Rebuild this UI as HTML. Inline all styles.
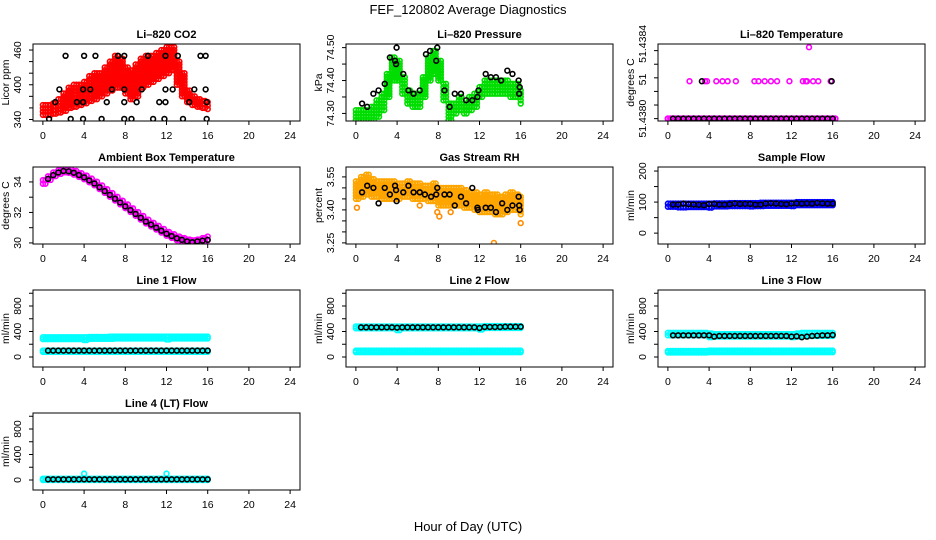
<!DOCTYPE html>
<html><head><meta charset="utf-8"><title>FEF_120802 Average Diagnostics</title>
<style>
html,body{margin:0;padding:0;background:#fff;}
svg{display:block;font-family:"Liberation Sans",Arial,sans-serif;}
</style></head>
<body>
<svg id="chart" width="936" height="540" viewBox="0 0 936 540" xmlns="http://www.w3.org/2000/svg">
<rect x="0" y="0" width="936" height="540" fill="#fff"/>
<text x="468" y="14" font-size="13" text-anchor="middle">FEF_120802  Average Diagnostics</text>
<text x="468" y="531" font-size="13" text-anchor="middle">Hour of Day (UTC)</text>
</svg>
<script>
// ---------- data ----------
const xTicks = [0,4,8,12,16,20,24];
const tDense = [0,0.5,1,1.5,2,2.5,3,3.5,4,4.5,5,5.5,6,6.5,7,7.5,8,8.5,9,9.5,10,10.5,11,11.5,12,12.5,13,13.5,14,14.5,15,15.5,16];
const tBlack = [0.5,1,1.5,2,2.5,3,3.5,4,4.5,5,5.5,6,6.5,7,7.5,8,8.5,9,9.5,10,10.5,11,11.5,12,12.5,13,13.5,14,14.5,15,15.5,16];

// CO2
const co2Lo = [348,348,350,352,355,360,362,365,368,372,375,380,385,390,395,395,385,375,380,395,400,405,410,415,420,425,400,380,370,365,362,360,358];
const co2Hi = [365,365,368,375,385,395,400,400,405,415,420,420,430,440,450,445,430,425,435,445,450,450,455,460,465,465,440,420,390,380,375,372,370];
const co2BlackT = [2.2,4.0,5.1,7.3,7.9,10.2,11.9,13.1,15.3,15.8, 1.6,3.9,4.6,6.7,7.9,9.6,11.9,12.6,14.7,15.8, 1.2,3.3,3.9,6.2,7.9,9.1,11.3,11.9,14.2,15.9, 0.6,2.7,3.9,5.7,7.9,8.6,10.7,11.8,13.6,15.9];
const co2BlackV = [450,450,450,450,450,450,450,450,450,450, 392,392,392,392,392,392,392,392,392,392, 370,370,370,370,370,370,370,370,370,370, 341,341,341,341,341,341,341,341,341,341];

// Pressure
const presLo = [74.28,74.28,74.28,74.28,74.29,74.31,74.35,74.40,74.40,74.36,74.33,74.32,74.32,74.35,74.40,74.42,74.40,74.34,74.28,74.30,74.31,74.30,74.31,74.32,74.35,74.36,74.36,74.36,74.36,74.36,74.35,74.35,74.33];
const presHi = [74.31,74.31,74.31,74.32,74.34,74.36,74.42,74.47,74.46,74.41,74.37,74.36,74.36,74.41,74.47,74.49,74.46,74.39,74.33,74.33,74.35,74.33,74.35,74.36,74.38,74.40,74.40,74.40,74.40,74.40,74.39,74.39,74.37];
const presBlackT = [0.6,1.1,1.7,2.2,2.8,3.3,3.8,3.9,3.95,4.6,5.1,5.6,6.2,6.8,7.2,7.8,7.9,8.6,9.1,9.6,10.2,10.7,11.3,11.8,11.9,12.6,13.1,13.6,14.1,14.7,15.2,15.8,15.9,15.85];
const presBlackV = [74.33,74.32,74.36,74.37,74.39,74.47,74.46,74.45,74.50,74.42,74.37,74.36,74.37,74.48,74.49,74.46,74.50,74.37,74.32,74.36,74.36,74.34,74.34,74.35,74.37,74.42,74.41,74.41,74.40,74.43,74.42,74.40,74.38,74.36];

// Li-820 temperature
const tempLow = 51.4380;
const tempMidT = [2.1,3.6,3.8,4.7,5.3,5.8,6.6,8.4,8.8,9.4,10.0,10.6,11.8,13.1,13.4,13.5,14.1,14.6,15.8];
const tempMidV = [51.43822,51.43822,51.43822,51.43822,51.43822,51.43822,51.43822,51.43822,51.43822,51.43822,51.43822,51.43822,51.43822,51.43822,51.43822,51.43822,51.43822,51.43822,51.43822];
const tempTopT = [13.7];
const tempTopV = [51.43842];
const tempBlackExtraT = [3.3,15.9];
const tempBlackExtraV = [51.43822,51.43822];

// Ambient box temperature
const ambV = [34.0,34.25,34.5,34.65,34.75,34.72,34.6,34.45,34.3,34.1,33.9,33.65,33.4,33.15,32.9,32.65,32.4,32.15,31.9,31.65,31.4,31.2,31.0,30.8,30.6,30.45,30.3,30.2,30.1,30.05,30.1,30.2,30.3];
const ambBlack = [34.2,34.45,34.62,34.72,34.7,34.6,34.45,34.3,34.1,33.9,33.65,33.4,33.15,32.9,32.65,32.4,32.15,31.9,31.65,31.4,31.2,31.0,30.8,30.6,30.45,30.3,30.2,30.1,30.05,30.1,30.15,30.2];

// Gas stream RH
const rhLo = [3.45,3.46,3.47,3.46,3.46,3.45,3.45,3.45,3.45,3.46,3.46,3.45,3.45,3.45,3.44,3.44,3.42,3.42,3.42,3.42,3.42,3.41,3.41,3.40,3.39,3.39,3.39,3.38,3.38,3.39,3.40,3.40,3.38];
const rhHi = [3.53,3.55,3.56,3.54,3.53,3.53,3.53,3.53,3.52,3.52,3.53,3.52,3.52,3.51,3.51,3.52,3.50,3.50,3.50,3.50,3.50,3.49,3.48,3.48,3.47,3.48,3.47,3.47,3.46,3.47,3.48,3.47,3.46];
const rhOutT = [0.1,8.1,13.4,16.0,7.9,9.2,6.2];
const rhOutV = [3.41,3.37,3.25,3.34,3.39,3.39,3.42];
const rhBlackT = [0.6,1.1,1.7,2.2,2.8,3.3,3.8,3.9,3.95,4.6,5.1,5.6,6.2,6.7,7.3,7.8,7.9,8.6,9.1,9.6,10.2,10.7,11.3,11.8,11.85,12.6,13.1,13.6,14.2,14.7,15.2,15.8,15.85,15.9];
const rhBlackV = [3.48,3.51,3.50,3.43,3.50,3.47,3.51,3.49,3.44,3.48,3.51,3.48,3.48,3.47,3.46,3.47,3.50,3.47,3.47,3.42,3.46,3.43,3.50,3.41,3.40,3.41,3.41,3.39,3.43,3.40,3.42,3.46,3.42,3.40];

// Sample flow
const sfLo = [85,85,83,83,84,84,84,84,82,86,86,86,87,87,87,87,86,87,87,88,88,88,88,88,87,90,90,90,90,90,90,90,90];
const sfHi = [95,95,95,95,95,95,95,95,95,96,96,96,97,97,97,97,97,97,98,98,98,98,98,98,98,100,100,100,100,100,100,100,100];
const sfBlack = [92,92,95,93,92,91,90,94,94,92,92,93,95,94,94,94,92,92,95,96,95,94,93,95,96,95,96,95,97,96,95,95];

// Line flows
const l1UpLo = [280,280,280,280,280,280,280,280,265,285,285,285,285,285,290,290,290,290,290,290,290,290,290,290,275,290,290,290,290,290,290,290,290];
const l1UpHi = [310,310,310,310,310,310,310,310,310,315,315,315,315,320,320,320,320,320,320,320,320,320,320,320,320,320,320,320,320,320,320,320,320];
const l1LoLo = [80,80,80,80,80,80,80,80,80,80,80,80,80,80,80,80,80,80,80,80,80,80,80,80,80,80,80,80,80,80,80,80,80];
const l1LoHi = [100,100,100,100,100,100,100,100,100,100,100,100,100,100,100,100,100,100,100,100,100,100,100,100,100,100,100,100,100,100,100,100,100];
const l1Black = [100,100,100,100,100,100,100,100,100,100,100,100,100,100,100,100,100,100,100,100,100,100,100,100,100,100,100,100,100,100,100,100];

const l2UpLo = [450,450,450,450,450,450,450,450,420,450,450,450,450,450,450,450,450,450,450,450,450,450,450,450,430,455,455,455,455,455,455,455,455];
const l2UpHi = [480,480,480,480,480,480,480,480,480,480,480,480,480,480,480,480,480,480,480,480,480,480,480,480,480,485,485,485,485,485,485,485,485];
const l2LoLo = [75,75,75,75,75,75,75,75,75,75,75,75,75,75,75,75,75,75,75,75,75,75,75,75,75,75,75,75,75,75,75,75,75];
const l2LoHi = [100,100,100,100,100,100,100,100,100,100,100,100,100,100,100,100,100,100,100,100,100,100,100,100,100,100,100,100,100,100,100,100,100];
const l2Black = [465,465,465,465,465,465,465,460,465,465,465,465,465,465,465,465,465,465,465,465,465,465,465,455,470,470,470,470,475,475,475,475];

const l3UpLo = [340,340,340,340,340,340,340,340,310,320,320,320,320,320,320,320,320,320,320,320,320,320,320,320,310,320,330,330,330,330,330,330,330];
const l3UpHi = [380,380,380,380,380,380,380,380,370,360,360,360,360,360,360,360,360,360,360,360,360,360,360,360,360,370,380,380,380,380,380,380,380];
const l3LoLo = [70,70,70,70,70,70,70,70,75,75,75,75,75,75,75,75,75,75,75,75,75,75,75,75,75,75,75,75,75,75,75,75,75];
const l3LoHi = [95,95,95,95,95,95,95,95,100,100,100,100,100,100,100,100,100,100,100,100,100,100,100,100,100,100,100,100,100,100,100,100,100];
const l3Black = [340,340,340,340,340,340,340,340,320,330,330,330,330,330,330,330,330,330,330,330,330,330,330,320,325,310,320,330,335,340,340,345];

const l4Lo = [0,0,0,0,0,0,0,0,0,0,0,0,0,0,0,0,0,0,0,0,0,0,0,0,0,0,0,0,0,0,0,0,0];
const l4Hi = [20,20,20,20,20,20,20,20,20,20,20,20,20,20,20,20,20,20,20,20,20,20,20,20,20,20,20,20,20,20,20,20,20];
const l4OutT = [4.0,12.0];
const l4OutV = [100,100];
const l4Black = [10,10,10,10,10,10,10,10,10,10,10,10,10,10,10,10,10,10,10,10,10,10,10,10,10,10,10,10,10,10,10,10];

// ---------- drawing ----------
const NS = "http://www.w3.org/2000/svg";
const svg = document.getElementById('chart');
const W = 267, H = 77;
const colLeft = [33, 346, 658];
const rowTop = [44, 167, 290, 413];

function mk(tag, attrs, parent) {
  const e = document.createElementNS(NS, tag);
  for (const k in attrs) e.setAttribute(k, attrs[k]);
  (parent || svg).appendChild(e);
  return e;
}

function makePanel(col, row, ylim, title, ylab, yTickVals, yLabelVals, yLabelText, name) {
  const L = colLeft[col], T = rowTop[row];
  const g = mk('g', {});
  
  
  const sx = t => L + (t + 0.96) / 25.92 * W;
  const sy = v => T + H - (v - ylim[0]) / (ylim[1] - ylim[0]) * H;
  const clip = mk('clipPath', {id: 'clip-' + name}, g);
  mk('rect', {x: L, y: T, width: W, height: H}, clip);
  const marks = mk('g', {'clip-path': 'url(#clip-' + name + ')'}, g);
  
  
  const box = mk('rect', {x: L, y: T, width: W, height: H, fill: 'none', stroke: '#000', 'stroke-width': 1}, g);
  
  
  const tt = mk('text', {x: L + W / 2, y: T - 6, 'font-size': 11, 'font-weight': 'bold', 'text-anchor': 'middle'}, g);
  tt.textContent = title;
  
  
  const xa = mk('g', {}, g);
  
  
  xTicks.forEach(t => {
    mk('line', {x1: sx(t), x2: sx(t), y1: T + H, y2: T + H + 4, stroke: '#000'}, xa);
    const lb = mk('text', {x: sx(t), y: T + H + 18, 'font-size': 10.5, 'text-anchor': 'middle'}, xa);
    lb.textContent = String(t);
    
    
  });
  const ya = mk('g', {}, g);
  
  
  yTickVals.forEach(v => {
    mk('line', {x1: L - 4, x2: L, y1: sy(v), y2: sy(v), stroke: '#000'}, ya);
  });
  yLabelVals.forEach((v, i) => {
    const y = sy(v), x = L - 12;
    const lb = mk('text', {x: x, y: y, 'font-size': 10.5, 'text-anchor': 'middle', transform: 'rotate(-90 ' + x + ' ' + y + ')'}, ya);
    lb.textContent = yLabelText[i];
    
    
  });
  const yx = L - 24, yy = T + H / 2;
  const yl = mk('text', {x: yx, y: yy, 'font-size': 10.5, 'text-anchor': 'middle', transform: 'rotate(-90 ' + yx + ' ' + yy + ')'}, g);
  yl.textContent = ylab;
  
  
  return {sx, sy, marks};
}

function dot(p, t, v, color, sw) {
  const c = mk('circle', {cx: p.sx(t), cy: p.sy(v), r: 2.4, fill: 'none', stroke: color, 'stroke-width': sw || 1.6}, p.marks);
  
  
}
function band(p, ts, lo, hi, color) {
  ts.forEach((t, i) => {
    const y1 = p.sy(lo[i]), y2 = p.sy(hi[i]);
    const n = Math.max(1, Math.round(Math.abs(y1 - y2) / 3));
    for (let k = 0; k <= n; k++) {
      const v = lo[i] + (hi[i] - lo[i]) * k / n;
      dot(p, t, v, color, 1.6);
      if (i < ts.length - 1) dot(p, t + 0.25, v, color, 1.6);
    }
  });
}
function pts(p, ts, vs, color) { ts.forEach((t, i) => dot(p, t, vs[i], color)); }

const linesLim = [-157, 1051];
const lineTicks = [0,200,400,600,800,1000];

let p = makePanel(0, 0, [337.4, 470.4], 'Li\u2013820 CO2', 'Licor ppm', [340,360,380,400,420,440,460], [340,400,460], ['340','400','460'], 'co2');
band(p, tDense, co2Lo, co2Hi, '#ff0000');
pts(p, co2BlackT, co2BlackV, '#000');

p = makePanel(1, 0, [74.277, 74.511], 'Li\u2013820 Pressure', 'kPa', [74.30,74.35,74.40,74.45,74.50], [74.30,74.40,74.50], ['74.30','74.40','74.50'], 'pressure');
band(p, tDense, presLo, presHi, '#00dd00');
pts(p, presBlackT, presBlackV, '#000');

p = makePanel(2, 0, [51.437986, 51.438439], 'Li\u2013820 Temperature', 'degrees C', [51.4380,51.43808,51.43816,51.43824,51.43832,51.4384], [51.43800,51.43823,51.43844], ['51.4380','51','51.4384'], 'li820-temp');
tDense.forEach(t => dot(p, t, tempLow, '#ff00ff', 2));
tDense.forEach(t => dot(p, t + 0.25, tempLow, '#ff00ff', 2));
pts(p, tempMidT, tempMidV, '#ff00ff');
pts(p, tempTopT, tempTopV, '#ff00ff');
tBlack.forEach(t => dot(p, t, tempLow, '#000'));
pts(p, tempBlackExtraT, tempBlackExtraV, '#000');

p = makePanel(0, 1, [29.93, 34.98], 'Ambient Box Temperature', 'degrees C', [30,31,32,33,34], [30,32,34], ['30','32','34'], 'ambient-temp');
band(p, tDense, ambV.map(v => v - 0.12), ambV.map(v => v + 0.12), '#ff00ff');
pts(p, tBlack, ambBlack, '#000');

p = makePanel(1, 1, [3.245, 3.595], 'Gas Stream RH', 'percent', [3.25,3.30,3.35,3.40,3.45,3.50,3.55], [3.25,3.40,3.55], ['3.25','3.40','3.55'], 'gas-rh');
band(p, tDense, rhLo, rhHi, '#ffa500');
pts(p, rhOutT, rhOutV, '#ff8c00');
pts(p, rhBlackT, rhBlackV, '#000');

p = makePanel(2, 1, [-35, 213], 'Sample Flow', 'ml/min', [0,50,100,150,200], [0,100,200], ['0','100','200'], 'sample-flow');
band(p, tDense, sfLo, sfHi, '#0000ff');
pts(p, tBlack, sfBlack, '#000');

p = makePanel(0, 2, linesLim, 'Line 1 Flow', 'ml/min', lineTicks, [0,400,800], ['0','400','800'], 'line1-flow');
band(p, tDense, l1UpLo, l1UpHi, '#00ffff');
band(p, tDense, l1LoLo, l1LoHi, '#00ffff');
pts(p, tBlack, l1Black, '#000');

p = makePanel(1, 2, linesLim, 'Line 2 Flow', 'ml/min', lineTicks, [0,400,800], ['0','400','800'], 'line2-flow');
band(p, tDense, l2UpLo, l2UpHi, '#00ffff');
band(p, tDense, l2LoLo, l2LoHi, '#00ffff');
pts(p, tBlack, l2Black, '#000');

p = makePanel(2, 2, linesLim, 'Line 3 Flow', 'ml/min', lineTicks, [0,400,800], ['0','400','800'], 'line3-flow');
band(p, tDense, l3UpLo, l3UpHi, '#00ffff');
band(p, tDense, l3LoLo, l3LoHi, '#00ffff');
pts(p, tBlack, l3Black, '#000');

p = makePanel(0, 3, linesLim, 'Line 4 (LT) Flow', 'ml/min', lineTicks, [0,400,800], ['0','400','800'], 'line4-flow');
band(p, tDense, l4Lo, l4Hi, '#00ffff');
pts(p, l4OutT, l4OutV, '#00ffff');
pts(p, tBlack, l4Black, '#000');
</script>
</body></html>
